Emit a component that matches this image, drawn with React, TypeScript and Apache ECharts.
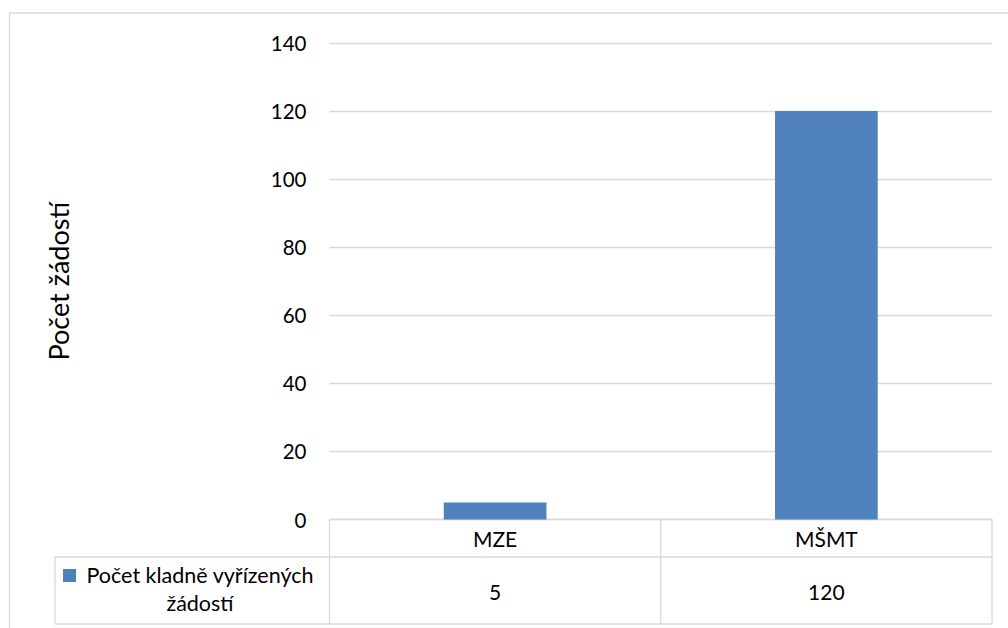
import React, { useEffect, useRef } from "react";
import * as echarts from "echarts";

const categories = ["MZE", "MŠMT"];
const seriesName = "Počet kladně vyřízených žádostí";
const seriesValues = [5, 120];
const yTicks = { min: 0, max: 140, interval: 20 };
const yTitle = "Počet žádostí";

const FONT = "Lato, 'Open Sans', sans-serif";
const LINE = "#d9d9d9";
const BLUE = "#4f81bd";

export default function App() {
  const ref = useRef<HTMLDivElement>(null);
  useEffect(() => {
    if (!ref.current) return;
    const chart = echarts.init(ref.current, null, { renderer: "svg" });
    const gl = 329.5, gr = 992, gb = 519.5;
    const r1 = 557, r2 = 624, legL = 55;
    const mid = (gl + gr) / 2;
    const ln = (x1: number, y1: number, x2: number, y2: number) => ({
      type: "line",
      shape: { x1, y1, x2, y2 },
      style: { stroke: LINE, lineWidth: 1.3 },
      silent: true,
    });
    chart.setOption({
      animation: false,
      backgroundColor: "#fff",
      textStyle: { fontFamily: FONT },
      grid: { left: gl, right: 1008 - gr, top: 43, bottom: 628 - gb, containLabel: false },
      xAxis: [
        {
          type: "category",
          data: categories,
          axisLine: { show: true, lineStyle: { color: LINE, width: 1.3 } },
          axisTick: { show: false },
          axisLabel: { margin: 8, fontSize: 21, color: "#000", fontFamily: FONT },
        },
        {
          type: "category",
          data: categories,
          position: "bottom",
          offset: 53,
          axisLine: { show: false },
          axisTick: { show: false },
          axisLabel: {
            margin: 8,
            fontSize: 21,
            color: "#000",
            fontFamily: FONT,
            formatter: (_v: string, i: number) => String(seriesValues[i]),
          },
        },
      ],
      yAxis: {
        type: "value",
        min: yTicks.min,
        max: yTicks.max,
        interval: yTicks.interval,
        name: yTitle,
        nameLocation: "middle",
        nameRotate: 90,
        nameGap: 258,
        nameTextStyle: { fontSize: 27, color: "#000", fontFamily: FONT },
        axisLine: { show: false },
        axisTick: { show: false },
        axisLabel: { margin: 23, fontSize: 20.5, color: "#000", fontFamily: FONT },
        splitLine: { lineStyle: { color: LINE, width: 1.3 } },
      },
      series: [
        {
          type: "bar",
          name: seriesName,
          data: seriesValues,
          barWidth: "31%",
          itemStyle: { color: BLUE },
        },
      ],
      graphic: [
        {
          type: "rect",
          shape: { x: 9.5, y: 13, width: 1100, height: 700 },
          style: { fill: "none", stroke: LINE, lineWidth: 1.3 },
          silent: true,
          z: -10,
        },
        ln(gl, gb, gl, r2),
        ln(mid, gb, mid, r2),
        ln(gr, gb, gr, r2),
        ln(legL, r1, gr, r1),
        ln(legL, r2, gr, r2),
        ln(legL, r1, legL, r2),
        {
          type: "rect",
          shape: { x: 63, y: 569, width: 13, height: 13 },
          style: { fill: BLUE },
          silent: true,
        },
        {
          type: "text",
          x: 200,
          y: 561,
          style: {
            text: seriesName.replace(" žádostí", "\nžádostí"),
            fill: "#000",
            font: `21.5px ${FONT}`,
            align: "center",
            verticalAlign: "top",
            lineHeight: 28,
          },
          silent: true,
        },
      ],
    });
    return () => chart.dispose();
  }, []);
  return (
    <div
      ref={ref}
      style={{ position: "fixed", left: 0, top: 0, width: 1008, height: 628, background: "#fff" }}
    />
  );
}
